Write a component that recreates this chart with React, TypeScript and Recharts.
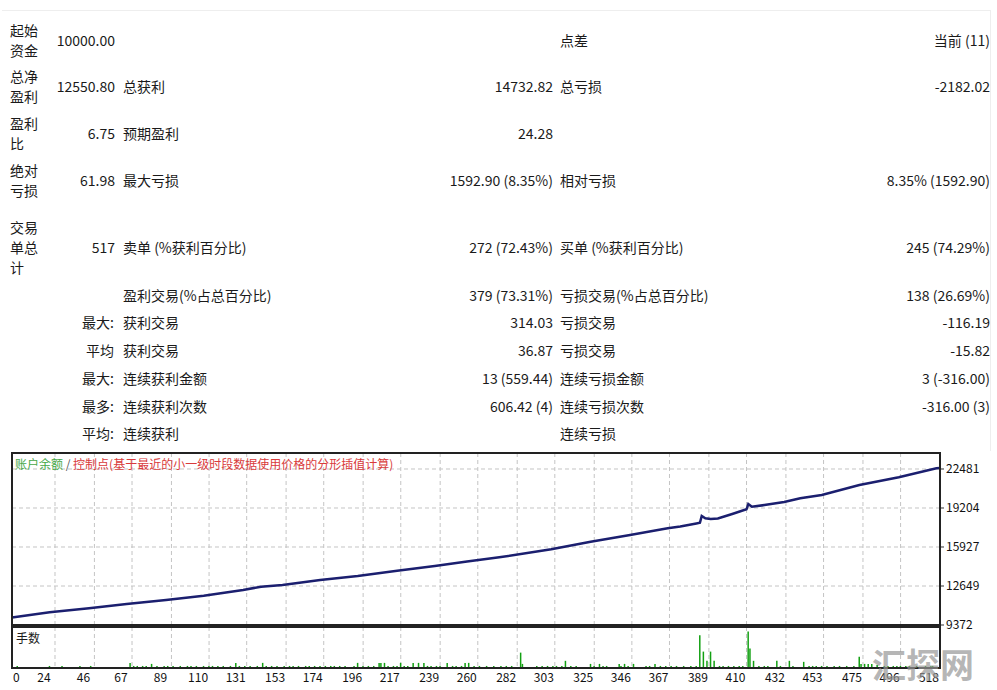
import React from 'react'
import { LineChart, Line, BarChart, Bar, XAxis, YAxis, CartesianGrid } from 'recharts'

// report rows: [top y, col1 label, col1 value, prefix, col2 label, col2 value, col3 label, col3 value]
const rowTops = [40, 86, 133, 180, 247, 295, 322, 350, 378, 406, 433]
const col1Labels = ['起始资金', '总净盈利', '盈利比', '绝对亏损', '交易单总计', '', '', '', '', '', '']
const col1Values = ['10000.00', '12550.80', '6.75', '61.98', '517', '', '', '', '', '', '']
const prefixes = ['', '', '', '', '', '', '最大:', '平均', '最大:', '最多:', '平均:']
const col2Labels = ['', '总获利', '预期盈利', '最大亏损', '卖单 (%获利百分比)', '盈利交易(%占总百分比)', '获利交易', '获利交易', '连续获利金额', '连续获利次数', '连续获利']
const col2Values = ['', '14732.82', '24.28', '1592.90 (8.35%)', '272 (72.43%)', '379 (73.31%)', '314.03', '36.87', '13 (559.44)', '606.42 (4)', '']
const col3Labels = ['点差', '总亏损', '', '相对亏损', '买单 (%获利百分比)', '亏损交易(%占总百分比)', '亏损交易', '亏损交易', '连续亏损金额', '连续亏损次数', '连续亏损']
const col3Values = ['当前 (11)', '-2182.02', '', '8.35% (1592.90)', '245 (74.29%)', '138 (26.69%)', '-116.19', '-15.82', '3 (-316.00)', '-316.00 (3)', '']

// balance curve (trade #, balance)
const balanceTrades = [0, 21, 43, 64, 86, 107, 129, 139, 151, 172, 193, 215, 236, 254, 272, 301, 323, 345, 366, 373, 382, 384, 385, 387, 390, 394, 402, 410, 411, 413, 420, 431, 440, 452, 473, 495, 516, 518]
const balanceValues = [10000, 10440, 10775, 11137, 11473, 11834, 12313, 12590, 12733, 13153, 13489, 13935, 14330, 14700, 15061, 15733, 16372, 16935, 17498, 17650, 17900, 17960, 18530, 18340, 18280, 18330, 18700, 19094, 19540, 19313, 19450, 19700, 20019, 20296, 21136, 21783, 22539, 22560]

// lot size per trade
const lotTrades = [3, 21, 28, 38, 44, 66, 68, 70, 73, 75, 78, 81, 85, 87, 90, 94, 98, 100, 103, 107, 110, 112, 115, 118, 122, 125, 127, 130, 133, 137, 140, 142, 145, 148, 152, 155, 157, 160, 164, 166, 169, 172, 175, 178, 180, 183, 186, 191, 193, 196, 199, 202, 205, 206, 208, 210, 213, 215, 217, 219, 221, 224, 227, 230, 232, 234, 237, 239, 243, 246, 248, 251, 253, 255, 258, 261, 265, 269, 273, 276, 279, 284, 285, 293, 296, 299, 302, 304, 307, 309, 312, 315, 323, 325, 328, 330, 332, 339, 340, 342, 344, 347, 354, 356, 359, 362, 365, 368, 371, 375, 379, 382, 384, 386, 388, 390, 392, 395, 397, 400, 403, 406, 408, 411, 412, 414, 417, 420, 422, 427, 429, 434, 436, 442, 445, 447, 449, 452, 455, 459, 462, 466, 470, 473, 474, 476, 478, 480, 483, 487, 489, 492, 494, 496, 499, 501, 505, 510, 513, 514]
const lotValues = [0.02, 0.02, 0.02, 0.02, 0.02, 0.05, 0.02, 0.02, 0.02, 0.02, 0.04, 0.02, 0.02, 0.02, 0.02, 0.02, 0.02, 0.02, 0.02, 0.02, 0.02, 0.02, 0.02, 0.02, 0.02, 0.05, 0.02, 0.02, 0.02, 0.02, 0.05, 0.02, 0.02, 0.02, 0.02, 0.02, 0.02, 0.02, 0.02, 0.02, 0.02, 0.02, 0.02, 0.02, 0.02, 0.02, 0.02, 0.02, 0.05, 0.02, 0.02, 0.02, 0.05, 0.05, 0.05, 0.02, 0.02, 0.02, 0.05, 0.02, 0.02, 0.05, 0.05, 0.05, 0.02, 0.02, 0.02, 0.02, 0.05, 0.02, 0.02, 0.02, 0.05, 0.05, 0.02, 0.02, 0.02, 0.02, 0.02, 0.02, 0.02, 0.15, 0.04, 0.02, 0.02, 0.02, 0.02, 0.02, 0.02, 0.07, 0.02, 0.02, 0.04, 0.02, 0.04, 0.02, 0.02, 0.04, 0.02, 0.04, 0.02, 0.04, 0.02, 0.02, 0.04, 0.02, 0.02, 0.02, 0.02, 0.02, 0.02, 0.02, 0.32, 0.16, 0.07, 0.16, 0.07, 0.02, 0.02, 0.02, 0.02, 0.02, 0.02, 0.355, 0.19, 0.07, 0.02, 0.02, 0.02, 0.07, 0.02, 0.07, 0.02, 0.06, 0.02, 0.02, 0.02, 0.02, 0.02, 0.02, 0.02, 0.02, 0.02, 0.11, 0.04, 0.04, 0.04, 0.04, 0.03, 0.02, 0.02, 0.02, 0.02, 0.02, 0.02, 0.02, 0.02, 0.02, 0.02, 0.02]

const xTicks = [0, 24, 46, 67, 89, 110, 131, 153, 174, 196, 217, 239, 260, 282, 303, 325, 346, 367, 389, 410, 432, 453, 475, 496, 518]
const yTicks = [9372, 12649, 15927, 19204, 22481]

const balanceData = balanceTrades.map((t, i) => ({ trade: t, balance: balanceValues[i] }))
const lotData = lotTrades.map((t, i) => ({ trade: t, lots: lotValues[i] }))

const FONT = '"Noto Sans CJK SC", "Noto Sans", sans-serif'
const GRID = '#c4c4c4'

function splitLabel(s: string) {
  const out: string[] = []
  for (let i = 0; i < s.length; i += 2) out.push(s.slice(i, i + 2))
  return out
}

// eslint-disable-next-line @typescript-eslint/no-explicit-any
function XTick({ x, y, payload }: any) {
  const first = payload.value === 0
  return (
    <text x={first ? x + 1 : x - 11} y={y} dy="0.71em" textAnchor={first ? 'start' : 'middle'}
      fontSize={12} fill="#111" fontFamily={FONT}>
      {payload.value}
    </text>
  )
}

export default function App() {
  return (
    <div style={{ position: 'absolute', left: 0, top: 0, width: 997, height: 690, background: '#fff', fontFamily: FONT, color: '#1a1a1a', overflow: 'hidden' }}>
      {/* faint frame of the report */}
      <div style={{ position: 'absolute', left: 2, top: 10, width: 988, height: 440, borderTop: '1px solid #eee', borderRight: '1px solid #eee' }} />

      {rowTops.map((y, i) => (
        <React.Fragment key={i}>
          {col1Labels[i] && (
            <div style={{ position: 'absolute', left: 10, top: y, width: 32, transform: 'translateY(-50%)', fontSize: 14, lineHeight: '20px' }}>
              {splitLabel(col1Labels[i]).map((p, k) => <div key={k}>{p}</div>)}
            </div>
          )}
          {[
            { t: col1Values[i], right: 997 - 115 },
            { t: prefixes[i], right: 997 - 114 },
            { t: col2Values[i], right: 997 - 553 },
            { t: col3Values[i], right: 997 - 990 },
          ].filter(c => c.t).map((c, k) => (
            <div key={'r' + k} style={{ position: 'absolute', right: c.right, top: y - 10, fontSize: 14, lineHeight: '20px', whiteSpace: 'nowrap' }}>{c.t}</div>
          ))}
          {[
            { t: col2Labels[i], left: 123 },
            { t: col3Labels[i], left: 560 },
          ].filter(c => c.t).map((c, k) => (
            <div key={'l' + k} style={{ position: 'absolute', left: c.left, top: y - 10, fontSize: 14, lineHeight: '20px', whiteSpace: 'nowrap' }}>{c.t}</div>
          ))}
        </React.Fragment>
      ))}

      {/* balance panel */}
      <div style={{ position: 'absolute', left: 0, top: 440 }}>
        <LineChart width={997} height={200} data={balanceData} margin={{ top: 13, right: 7, bottom: 15, left: 12 }}>
          <CartesianGrid stroke={GRID} strokeDasharray="4 3" />
          <XAxis dataKey="trade" type="number" domain={[0, 518]} ticks={xTicks} hide />
          <YAxis orientation="right" type="number" domain={[9372, 23825]} ticks={yTicks} width={50}
            axisLine={false} tickSize={4} tickMargin={2} tickLine={{ stroke: '#333' }}
            tick={{ fontSize: 12, fill: '#111', fontFamily: FONT, textAnchor: 'start' }} />
          <Line type="linear" dataKey="balance" stroke="#1b1f6f" strokeWidth={2.5} dot={false} isAnimationActive={false} />
        </LineChart>
      </div>

      {/* lots panel */}
      <div style={{ position: 'absolute', left: 0, top: 620 }}>
        <BarChart width={997} height={70} data={lotData} margin={{ top: 7, right: 57, bottom: 0, left: 12 }} barCategoryGap={0}>
          <CartesianGrid stroke={GRID} strokeDasharray="4 3" horizontal={false} />
          <XAxis dataKey="trade" type="number" domain={[0, 518]} ticks={xTicks} height={22}
            axisLine={false} tickLine={false} tickSize={0} tickMargin={5} tick={<XTick />} interval={0} />
          <YAxis type="number" domain={[0, 0.4]} hide />
          <Bar dataKey="lots" fill="#12a012" barSize={1.5} isAnimationActive={false} />
        </BarChart>
      </div>

      {/* panel frames */}
      <div style={{ position: 'absolute', left: 11, top: 452, width: 930, height: 174, border: '2px solid #222', boxSizing: 'border-box' }} />
      <div style={{ position: 'absolute', left: 11, top: 626, width: 930, height: 43, border: '2px solid #222', boxSizing: 'border-box' }} />

      <div style={{ position: 'absolute', left: 15, top: 456, fontSize: 12, lineHeight: '16px', whiteSpace: 'nowrap' }}>
        <span style={{ color: '#47a847' }}>账户余额</span>
        <span style={{ color: '#555' }}> / </span>
        <span style={{ color: '#d93b3b' }}>控制点(基于最近的小一级时段数据使用价格的分形插值计算)</span>
      </div>
      <div style={{ position: 'absolute', left: 16, top: 630, fontSize: 12, lineHeight: '16px' }}>手数</div>

      <div style={{ position: 'absolute', left: 872, top: 644, fontSize: 34, fontWeight: 700, lineHeight: '40px', color: 'rgba(150,150,150,0.7)', whiteSpace: 'nowrap' }}>汇探网</div>
    </div>
  )
}
